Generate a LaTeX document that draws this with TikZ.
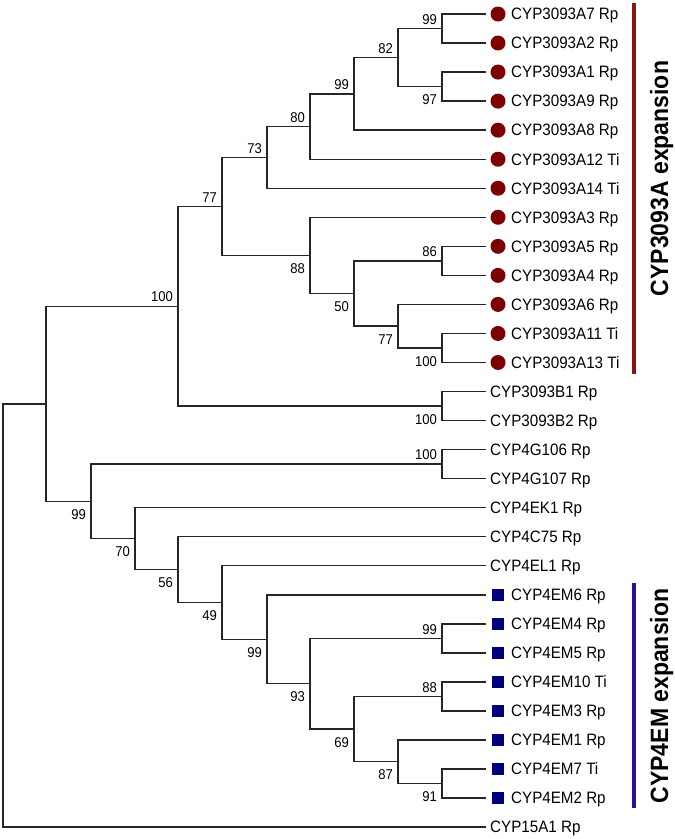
\documentclass[tikz,border=0pt]{standalone}
\usepackage{fontspec}
\newfontfamily\treefont[FakeStretch=0.92]{Liberation Sans}
\definecolor{cladered}{RGB}{125,0,0}
\definecolor{barred}{RGB}{140,20,20}
\definecolor{cladeblue}{RGB}{0,0,125}
\definecolor{barblue}{RGB}{45,15,155}
\tikzset{
  branch/.style={line width=1.4pt,draw=black!85},
  leaf/.style={anchor=base west,inner sep=0pt,yshift=-5.8pt,
    font=\treefont\fontsize{16.5}{18}\selectfont},
  bsup/.style={anchor=south east,inner sep=0pt,xshift=-5pt,yshift=4pt,
    font=\treefont\fontsize{14.2}{16}\selectfont},
  bsdn/.style={anchor=north east,inner sep=0pt,xshift=-5pt,yshift=-8pt,
    font=\treefont\fontsize{14.2}{16}\selectfont},
  cladelab/.style={rotate=90,anchor=base,inner sep=0pt,
    font=\treefont\bfseries\fontsize{25}{28}\selectfont}
}
\begin{document}
\begin{tikzpicture}[x=1pt,y=-1pt]
    \useasboundingbox (0,0) rectangle (675,839);
    %% leaves of the CYP3093A clade
    \foreach \i/\name in {1/CYP3093A7 Rp,2/CYP3093A2 Rp,3/CYP3093A1 Rp,4/CYP3093A9 Rp,5/CYP3093A8 Rp,6/CYP3093A12 Ti,7/CYP3093A14 Ti,8/CYP3093A3 Rp,9/CYP3093A5 Rp,10/CYP3093A4 Rp,11/CYP3093A6 Rp,12/CYP3093A11 Ti,13/CYP3093A13 Ti} {
        \coordinate (l\i) at (486,{14+(\i-1)*29.04});
        \fill[cladered] (498,{14+(\i-1)*29.04}) circle (7.5pt);
        \node[leaf] (t\i) at (511,{14+(\i-1)*29.04}) {\name};
    }
    %% plain leaves
    \foreach \i/\name in {14/CYP3093B1 Rp,15/CYP3093B2 Rp,16/CYP4G106 Rp,17/CYP4G107 Rp,18/CYP4EK1 Rp,19/CYP4C75 Rp,20/CYP4EL1 Rp,29/CYP15A1 Rp} {
        \coordinate (l\i) at (486,{14+(\i-1)*29.04});
        \node[leaf] (t\i) at (490,{14+(\i-1)*29.04}) {\name};
    }
    %% leaves of the CYP4EM clade
    \foreach \i/\name in {21/CYP4EM6 Rp,22/CYP4EM4 Rp,23/CYP4EM5 Rp,24/CYP4EM10 Ti,25/CYP4EM3 Rp,26/CYP4EM1 Rp,27/CYP4EM7 Ti,28/CYP4EM2 Rp} {
        \coordinate (l\i) at (486,{14+(\i-1)*29.04});
        \fill[cladeblue] (491.75,{14+(\i-1)*29.04-6.25}) rectangle ++(12.5,12.5);
        \node[leaf] (t\i) at (511,{14+(\i-1)*29.04}) {\name};
    }
    %% inner nodes
    \coordinate (a99) at (442,28.52);
    \coordinate (a97) at (442,86.60);
    \coordinate (a82) at (398,57.56);
    \coordinate (a99b) at (354,93.86);
    \coordinate (a80) at (310,126.53);
    \coordinate (a73) at (267,157.39);
    \coordinate (a86) at (442,260.84);
    \coordinate (a100s) at (442,347.96);
    \coordinate (a77s) at (398,326.18);
    \coordinate (a50) at (354,293.51);
    \coordinate (a88) at (310,255.40);
    \coordinate (a77) at (222,206.39);
    \coordinate (b100) at (442,406.04);
    \coordinate (c100) at (178,306.22);
    \coordinate (g100) at (442,464.12);
    \coordinate (e99) at (442,638.36);
    \coordinate (e88) at (442,696.44);
    \coordinate (e91) at (442,783.56);
    \coordinate (e87) at (398,761.78);
    \coordinate (e69) at (354,729.11);
    \coordinate (e93) at (310,683.74);
    \coordinate (e99b) at (267,639.27);
    \coordinate (e49) at (222,602.52);
    \coordinate (e56) at (178,569.62);
    \coordinate (e70) at (135,538.65);
    \coordinate (e99c) at (91,501.39);
    \coordinate (top) at (46,403.80);
    \coordinate (root) at (3,615.46);
    %% branches
    \draw[branch] (l1) -| (a99) |- (l2);
    \draw[branch] (l3) -| (a97) |- (l4);
    \draw[branch] (a99) -| (a82) |- (a97);
    \draw[branch] (a82) -| (a99b) |- (l5);
    \draw[branch] (a99b) -| (a80) |- (l6);
    \draw[branch] (a80) -| (a73) |- (l7);
    \draw[branch] (l9) -| (a86) |- (l10);
    \draw[branch] (l12) -| (a100s) |- (l13);
    \draw[branch] (l11) -| (a77s) |- (a100s);
    \draw[branch] (a86) -| (a50) |- (a77s);
    \draw[branch] (l8) -| (a88) |- (a50);
    \draw[branch] (a73) -| (a77) |- (a88);
    \draw[branch] (l14) -| (b100) |- (l15);
    \draw[branch] (a77) -| (c100) |- (b100);
    \draw[branch] (l16) -| (g100) |- (l17);
    \draw[branch] (l22) -| (e99) |- (l23);
    \draw[branch] (l24) -| (e88) |- (l25);
    \draw[branch] (l27) -| (e91) |- (l28);
    \draw[branch] (l26) -| (e87) |- (e91);
    \draw[branch] (e88) -| (e69) |- (e87);
    \draw[branch] (e99) -| (e93) |- (e69);
    \draw[branch] (l21) -| (e99b) |- (e93);
    \draw[branch] (l20) -| (e49) |- (e99b);
    \draw[branch] (l19) -| (e56) |- (e49);
    \draw[branch] (l18) -| (e70) |- (e56);
    \draw[branch] (g100) -| (e99c) |- (e70);
    \draw[branch] (c100) -| (top) |- (e99c);
    \draw[branch] (top) -| (root) |- (l29);
    %% bootstrap values
    \node[bsup] (s1) at (a99) {99};
    \node[bsdn] (s2) at (a97) {97};
    \node[bsup] (s3) at (a82) {82};
    \node[bsup] (s4) at (a99b) {99};
    \node[bsup] (s5) at (a80) {80};
    \node[bsup] (s6) at (a73) {73};
    \node[bsup] (s7) at (a77) {77};
    \node[bsup] (s8) at (c100) {100};
    \node[bsdn] (s9) at (a88) {88};
    \node[bsdn] (s10) at (a50) {50};
    \node[bsup] (s11) at (a86) {86};
    \node[bsdn] (s12) at (a77s) {77};
    \node[bsdn] (s13) at (a100s) {100};
    \node[bsdn] (s14) at (b100) {100};
    \node[bsup] (s15) at (g100) {100};
    \node[bsdn] (s16) at (e99c) {99};
    \node[bsdn] (s17) at (e70) {70};
    \node[bsdn] (s18) at (e56) {56};
    \node[bsdn] (s19) at (e49) {49};
    \node[bsdn] (s20) at (e99b) {99};
    \node[bsdn] (s21) at (e93) {93};
    \node[bsup] (s22) at (e99) {99};
    \node[bsdn] (s23) at (e69) {69};
    \node[bsup] (s24) at (e88) {88};
    \node[bsdn] (s25) at (e87) {87};
    \node[bsdn] (s26) at (e91) {91};
    %% clade bars
    \coordinate (redtop) at (634,3);
    \coordinate (redbot) at (634,374);
    \draw[barred,line width=3.2pt] (redtop) -- (redbot);
    \node[cladelab] (redlab) at (668,178.5) {CYP3093A expansion};
    \coordinate (bluetop) at (634,583);
    \coordinate (bluebot) at (634,808);
    \draw[barblue,line width=3.2pt] (bluetop) -- (bluebot);
    \node[cladelab] (bluelab) at (668,696) {CYP4EM expansion};
\end{tikzpicture}
\end{document}
